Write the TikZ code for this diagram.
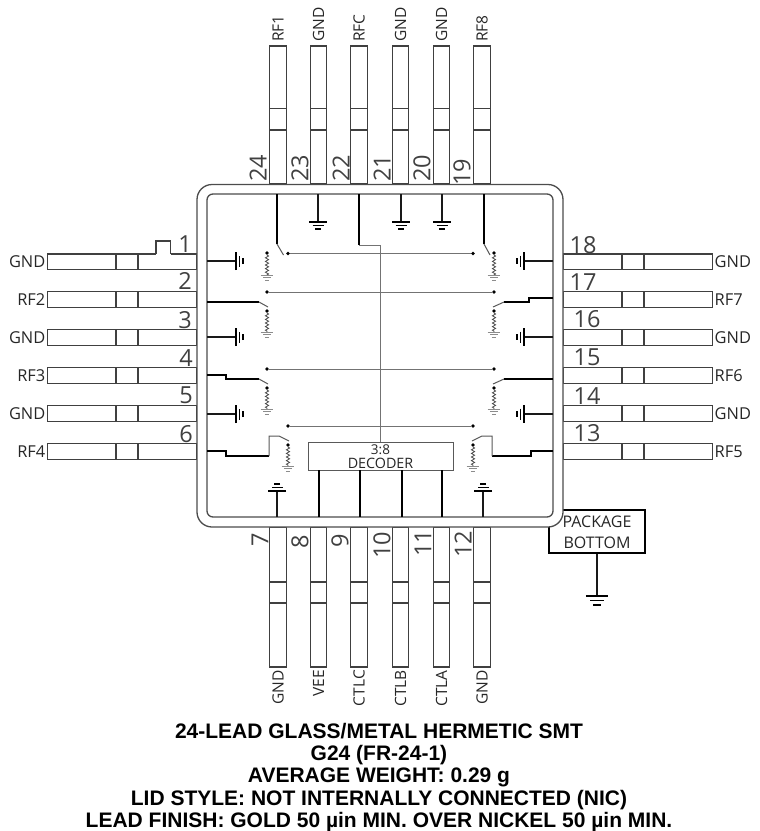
\documentclass[tikz,border=0pt]{standalone}
\usepackage{fontspec}
\setmainfont{Open Sans}
\newfontfamily\titlefont{Liberation Sans}
\usetikzlibrary{decorations.pathmorphing}
\begin{document}
\begin{tikzpicture}[x=1pt,y=-1pt,line join=miter,
    lead/.style = {draw=black!75, line width=1.2pt, rectangle, inner sep=0, outer sep=0},
    leadl/.style = {lead, minimum width=149.5pt, minimum height=15.3pt, label={[name font, label distance=2pt]left:#1},
        path picture={\draw[black!75, line width=1.2pt] ([xshift=68.5pt]path picture bounding box.north west) -- ([xshift=68.5pt]path picture bounding box.south west);
        \draw[black!75, line width=1.2pt] ([xshift=90.5pt]path picture bounding box.north west) -- ([xshift=90.5pt]path picture bounding box.south west);}},
    leadr/.style = {lead, minimum width=149.5pt, minimum height=15.3pt, label={[name font, label distance=2pt]right:#1},
        path picture={\draw[black!75, line width=1.2pt] ([xshift=59pt]path picture bounding box.north west) -- ([xshift=59pt]path picture bounding box.south west);
        \draw[black!75, line width=1.2pt] ([xshift=81pt]path picture bounding box.north west) -- ([xshift=81pt]path picture bounding box.south west);}},
    leadt/.style = {lead, minimum width=16.5pt, minimum height=138pt, label={[name font, font=\fontsize{15.5}{18}\selectfont, rotate=90, anchor=west, inner xsep=4pt]above:#1},
        path picture={\draw[black!75, line width=1.2pt] ([yshift=-62.7pt]path picture bounding box.north west) -- ([yshift=-62.7pt]path picture bounding box.north east);
        \draw[black!75, line width=1.2pt] ([yshift=-84pt]path picture bounding box.north west) -- ([yshift=-84pt]path picture bounding box.north east);}},
    leadb/.style = {lead, minimum width=16.5pt, minimum height=140pt, label={[name font, font=\fontsize{15.5}{18}\selectfont, rotate=90, anchor=east, inner xsep=3pt]below:#1},
        path picture={\draw[black!75, line width=1.2pt] ([yshift=-55pt]path picture bounding box.north west) -- ([yshift=-55pt]path picture bounding box.north east);
        \draw[black!75, line width=1.2pt] ([yshift=-76pt]path picture bounding box.north west) -- ([yshift=-76pt]path picture bounding box.north east);}},
    name font/.style = {font=\fontsize{16.4}{18}\selectfont, text=black!85, inner sep=0},
    num/.style = {font=\fontsize{23.5}{26}\selectfont, text=black!75, inner sep=0},
    numv/.style = {num, rotate=90},
    wall/.style = {draw=black!70, line width=1.3pt, fill=white},
    wire/.style = {black!55, line width=.9pt},
    arm/.style = {black!65, line width=1pt},
    rfline/.style = {black, line width=2.4pt},
    stub/.style = {black!90, line width=1.5pt},
    dot/.style = {circle, fill=black, inner sep=0, minimum size=3.8pt},
    res/.style = {black!70, line width=.8pt, decorate, decoration={zigzag, segment length=3.6pt, amplitude=1.6pt}},
    bigbox/.style = {draw=black, line width=2.4pt, minimum width=96pt, minimum height=43pt, inner sep=0},
    pics/gnd/.style = {code={
        \draw (-9,0) -- (9,0);
        \draw (-5.5,3.5) -- (5.5,3.5);
        \draw (-3,7) -- (3,7);}},
    smallgnd/.style = {black!45, scale=.72, line width=1pt},
    blackgnd/.style = {black, line width=1.5pt}]
        \useasboundingbox (0,0) rectangle (760,831);

        \node[bigbox](box) at (597,531.5) {};
        \node[font=\fontsize{16}{18}\selectfont, text=black!85, inner sep=0](boxtop) at (597,522) {PACKAGE};
        \node[font=\fontsize{16}{18}\selectfont, text=black!85, inner sep=0](boxbot) at (597,543) {BOTTOM};
        \coordinate (boxg) at (597,596);
        \draw[stub, line width=1.8pt] (box.south) -- (boxg);
        \pic[blackgnd, scale=1.25] at (boxg) {gnd};

        \node[leadl=GND](1) at (122.25,261.6) {};
        \node[leadl=RF2](2) at (122.25,299.5) {};
        \node[leadl=GND](3) at (122.25,337.5) {};
        \node[leadl=RF3](4) at (122.25,375.5) {};
        \node[leadl=GND](5) at (122.25,413.5) {};
        \node[leadl=RF4](6) at (122.25,451.5) {};
        \node[leadb=GND](7) at (278,597) {};
        \node[leadb=VEE](8) at (318.5,597) {};
        \node[leadb=CTLC](9) at (359,597) {};
        \node[leadb=CTLB](10) at (400.5,597) {};
        \node[leadb=CTLA](11) at (441.5,597) {};
        \node[leadb=GND](12) at (482,597) {};
        \node[leadr=RF5](13) at (637.75,451.5) {};
        \node[leadr=GND](14) at (637.75,413.5) {};
        \node[leadr=RF6](15) at (637.75,375.5) {};
        \node[leadr=GND](16) at (637.75,337.5) {};
        \node[leadr=RF7](17) at (637.75,299.5) {};
        \node[leadr=GND](18) at (637.75,261.6) {};
        \node[leadt=RF8](19) at (482,115) {};
        \node[leadt=GND](20) at (441.5,115) {};
        \node[leadt=GND](21) at (400.5,115) {};
        \node[leadt=RFC](22) at (359,115) {};
        \node[leadt=GND](23) at (318.5,115) {};
        \node[leadt=RF1](24) at (278,115) {};

        \draw[white, line width=2pt] (156,254) -- (170.5,254);
        \draw[black!75, line width=1.2pt] (156,254) -- (156,241) -- (170.5,241) -- (170.5,254);

        \node[num](n1) at (185,244) {1};
        \node[num](n2) at (185,281) {2};
        \node[num](n3) at (185,320) {3};
        \node[num](n4) at (186,358) {4};
        \node[num](n5) at (186,395) {5};
        \node[num](n6) at (186,434) {6};
        \node[numv](n7) at (260,540) {7};
        \node[numv](n8) at (300,542) {8};
        \node[numv](n9) at (340,541) {9};
        \node[numv](n10) at (382,545) {10};
        \node[numv](n11) at (423,543) {11};
        \node[numv](n12) at (463,544) {12};
        \node[num](n13) at (587,433) {13};
        \node[num](n14) at (587,396) {14};
        \node[num](n15) at (587,357) {15};
        \node[num](n16) at (587,319) {16};
        \node[num](n17) at (583,282) {17};
        \node[num](n18) at (583,245) {18};
        \node[numv](n19) at (462,172) {19};
        \node[numv](n20) at (422,168) {20};
        \node[numv](n21) at (382,168) {21};
        \node[numv](n22) at (341,168) {22};
        \node[numv](n23) at (300,168) {23};
        \node[numv](n24) at (258,168) {24};

        \node[wall, rounded corners=15pt, minimum width=366pt, minimum height=342.5pt](case) at (380,355.75) {};
        \node[wall, rounded corners=6pt, minimum width=346pt, minimum height=323pt](cavity) at (380,355.5) {};

        \node[dot](a1) at (288,253.5) {};
        \node[dot](a2) at (473,253.5) {};
        \node[dot](b1) at (267,292) {};
        \node[dot](b2) at (494,292) {};
        \node[dot](c1) at (267,369) {};
        \node[dot](c2) at (494,369) {};
        \node[dot](d1) at (288,426) {};
        \node[dot](d2) at (473,426) {};
        \draw[wire] (a1) -- (a2);
        \draw[wire] (b1) -- (b2);
        \draw[wire] (c1) -- (c2);
        \draw[wire] (d1) -- (d2);

        \node[draw=black!65, line width=1pt, fill=white, minimum width=145pt, minimum height=28pt, inner sep=0](dec) at (380.5,456) {};
        \node[font=\fontsize{13.5}{15}\selectfont, text=black!85, inner sep=0](dec1) at (380.5,450) {3:8};
        \node[font=\fontsize{14.3}{15}\selectfont, text=black!85, inner sep=0](dec2) at (380.5,463) {DECODER};
        \coordinate (rfc1) at (359,194);
        \coordinate (rfc2) at (359,245);
        \coordinate (rfc3) at (380,245);
        \draw[rfline] (rfc1) -- (rfc2);
        \draw[wire] (rfc2) -- (rfc3);
        \draw[wire] (rfc3) -- (rfc3 |- dec.north);
        \draw[rfline] (319,470) coordinate (e1) -- (319,517) coordinate (f1);
        \draw[rfline] (360,470) coordinate (e2) -- (360,517) coordinate (f2);
        \draw[rfline] (402,470) coordinate (e3) -- (402,517) coordinate (f3);
        \draw[rfline] (442,470) coordinate (e4) -- (442,517) coordinate (f4);

        \coordinate (t1) at (318,194);
        \coordinate (t2) at (318,222);
        \coordinate (t3) at (401,194);
        \coordinate (t4) at (401,222);
        \coordinate (t5) at (442,194);
        \coordinate (t6) at (442,222);
        \draw[stub] (t1) -- (t2);
        \draw[stub] (t3) -- (t4);
        \draw[stub] (t5) -- (t6);
        \pic[blackgnd] at (t2) {gnd};
        \pic[blackgnd] at (t4) {gnd};
        \pic[blackgnd] at (t6) {gnd};

        \coordinate (u1) at (277,517);
        \coordinate (u2) at (277,491);
        \coordinate (u3) at (483,517);
        \coordinate (u4) at (483,491);
        \draw[stub] (u1) -- (u2);
        \draw[stub] (u3) -- (u4);
        \pic[blackgnd, rotate=180] at (u2) {gnd};
        \pic[blackgnd, rotate=180] at (u4) {gnd};

        \coordinate (l1) at (207,261);
        \coordinate (l2) at (236,261);
        \coordinate (l3) at (207,337);
        \coordinate (l4) at (236,337);
        \coordinate (l5) at (207,414);
        \coordinate (l6) at (236,414);
        \draw[stub] (l1) -- (l2);
        \draw[stub] (l3) -- (l4);
        \draw[stub] (l5) -- (l6);
        \pic[blackgnd, rotate=90] at (l2) {gnd};
        \pic[blackgnd, rotate=90] at (l4) {gnd};
        \pic[blackgnd, rotate=90] at (l6) {gnd};

        \coordinate (r1) at (553,261);
        \coordinate (r2) at (524,261);
        \coordinate (r3) at (553,337);
        \coordinate (r4) at (524,337);
        \coordinate (r5) at (553,414);
        \coordinate (r6) at (524,414);
        \draw[stub] (r1) -- (r2);
        \draw[stub] (r3) -- (r4);
        \draw[stub] (r5) -- (r6);
        \pic[blackgnd, rotate=-90] at (r2) {gnd};
        \pic[blackgnd, rotate=-90] at (r4) {gnd};
        \pic[blackgnd, rotate=-90] at (r6) {gnd};

        \coordinate (s1) at (277,194);
        \coordinate (s2) at (277,244);
        \coordinate (s3) at (283.5,255);
        \draw[rfline] (s1) -- (s2);
        \draw[arm] (s2) -- (s3);
        \coordinate (s4) at (484,194);
        \coordinate (s5) at (484,244);
        \coordinate (s6) at (490,255);
        \draw[rfline] (s4) -- (s5);
        \draw[arm] (s5) -- (s6);
        \coordinate (s7) at (207,302);
        \coordinate (s8) at (259,302);
        \coordinate (s9) at (268,307);
        \draw[rfline] (s7) -- (s8);
        \draw[arm] (s8) -- (s9);
        \coordinate (s10) at (553,298);
        \coordinate (s11) at (504,302);
        \coordinate (s12) at (493,307);
        \draw[rfline] (s10) -- (529,298) -- (529,302) -- (s11);
        \draw[arm] (s11) -- (s12);
        \coordinate (s13) at (207,375);
        \coordinate (s14) at (259,379);
        \coordinate (s15) at (268,384);
        \draw[rfline] (s13) -- (226,375) -- (226,379) -- (s14);
        \draw[arm] (s14) -- (s15);
        \coordinate (s16) at (553,379);
        \coordinate (s17) at (504,379);
        \coordinate (s18) at (493,384);
        \draw[rfline] (s16) -- (s17);
        \draw[arm] (s17) -- (s18);
        \coordinate (s19) at (207,451);
        \coordinate (s20) at (269,456);
        \coordinate (s21) at (289,441);
        \draw[rfline] (s19) -- (226,451) -- (226,456) -- (s20);
        \draw[arm] (s20) -- (269,436) -- (279,436) -- (s21);
        \coordinate (s22) at (553,451);
        \coordinate (s23) at (492,456);
        \coordinate (s24) at (472,441);
        \draw[rfline] (s22) -- (531,451) -- (531,456) -- (s23);
        \draw[arm] (s23) -- (492,436) -- (482,436) -- (s24);

        \node[dot](z1) at (267,253) {};
        \coordinate (y1) at (267,275);
        \node[dot](z2) at (494,253) {};
        \coordinate (y2) at (494,275);
        \node[dot](z3) at (267,311) {};
        \coordinate (y3) at (267,332);
        \node[dot](z4) at (494,311) {};
        \coordinate (y4) at (494,332);
        \node[dot](z5) at (267,388) {};
        \coordinate (y5) at (267,409);
        \node[dot](z6) at (494,388) {};
        \coordinate (y6) at (494,409);
        \node[dot](z7) at (288,445) {};
        \coordinate (y7) at (288,466);
        \node[dot](z8) at (473,445) {};
        \coordinate (y8) at (473,466);
        \draw[res] (z1) -- (y1);
        \draw[res] (z2) -- (y2);
        \draw[res] (z3) -- (y3);
        \draw[res] (z4) -- (y4);
        \draw[res] (z5) -- (y5);
        \draw[res] (z6) -- (y6);
        \draw[res] (z7) -- (y7);
        \draw[res] (z8) -- (y8);
        \pic[smallgnd] at (y1) {gnd};
        \pic[smallgnd] at (y2) {gnd};
        \pic[smallgnd] at (y3) {gnd};
        \pic[smallgnd] at (y4) {gnd};
        \pic[smallgnd] at (y5) {gnd};
        \pic[smallgnd] at (y6) {gnd};
        \pic[smallgnd] at (y7) {gnd};
        \pic[smallgnd] at (y8) {gnd};

        \node[align=center, inner sep=0, font=\titlefont\bfseries\fontsize{21}{22.1}\selectfont](title) at (379,777.5) {24-LEAD GLASS/METAL HERMETIC SMT\\G24 (FR-24-1)\\AVERAGE WEIGHT: 0.29 g\\LID STYLE: NOT INTERNALLY CONNECTED (NIC)\\LEAD FINISH: GOLD 50 µin MIN. OVER NICKEL 50 µin MIN.};
    \end{tikzpicture}
\end{document}
